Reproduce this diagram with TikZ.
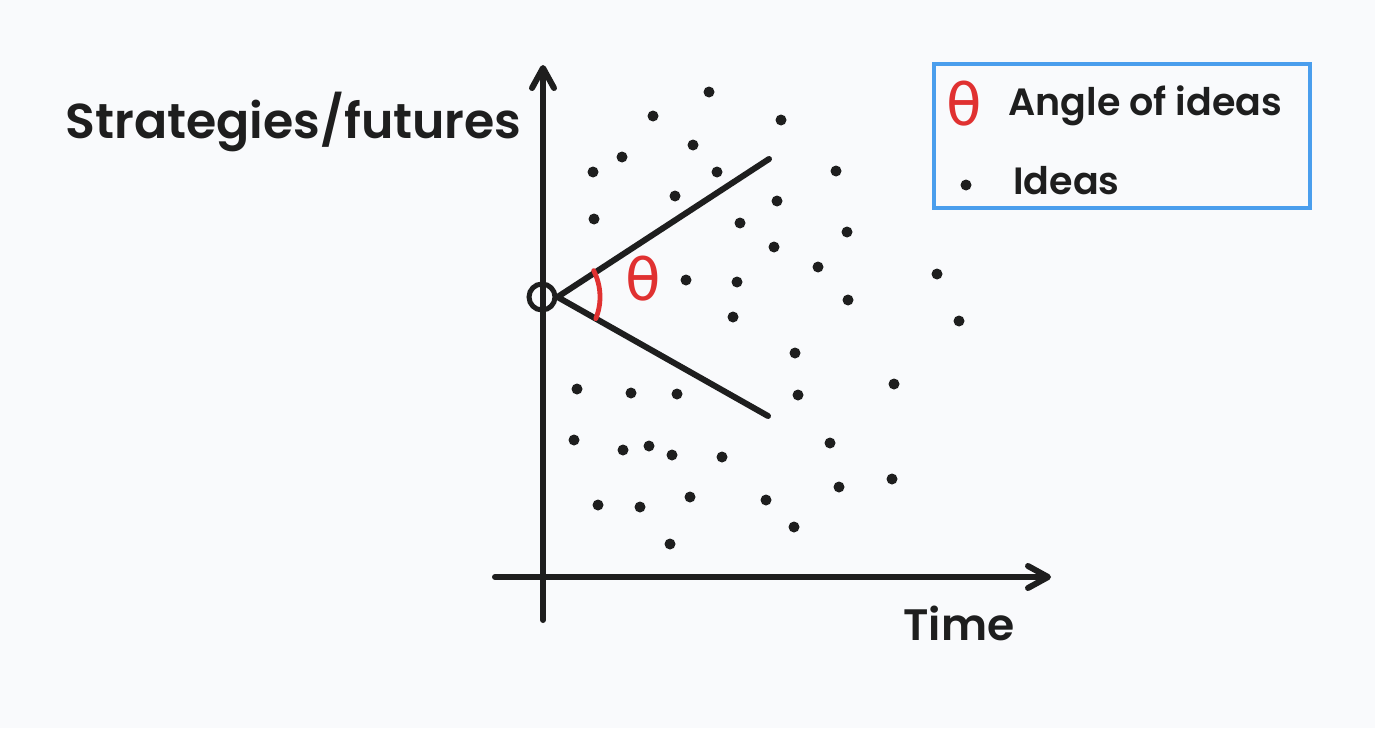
\documentclass[tikz,border=0pt]{standalone}
\usepackage{fontspec}
\setmainfont{Poppins}[UprightFont=* SemiBold]
\newfontfamily\thetafont{DejaVu Sans}
\usetikzlibrary{arrows.meta}
\definecolor{ink}{RGB}{30,30,30}
\definecolor{paper}{RGB}{249,250,252}
\definecolor{anglered}{RGB}{224,49,49}
\definecolor{legendblue}{RGB}{74,158,237}
\tikzset{
    axis/.style={draw=ink, line width=3pt, line cap=round,
        -{Straight Barb[length=10pt,width=11pt,round]}},
    ray/.style={draw=ink, line width=3pt, line cap=round},
    origin/.style={circle, draw=ink, line width=2.5pt, minimum size=13pt, inner sep=0pt},
    anglearc/.style={draw=anglered, line width=2.4pt, line cap=round},
    thetamark/.style={text=anglered, inner sep=0pt, font=\thetafont\fontsize{29pt}{29pt}\selectfont},
    axislabel/.style={text=ink, inner sep=0pt, anchor=base west},
    legendbox/.style={draw=legendblue, line width=1.6pt},
    legendtext/.style={text=ink, inner sep=0pt, anchor=base west, font=\fontsize{19pt}{19pt}\selectfont},
    idea/.style={fill=ink},
}

\begin{document}
\begin{tikzpicture}[x=0.5pt, y=-0.5pt]
	\useasboundingbox[fill=paper] (0,0) rectangle (1375,728);
	% axes
	\coordinate (ybot) at (543,620);
	\coordinate (ytop) at (543,65);
	\coordinate (xleft) at (495,577);
	\coordinate (xright) at (1051,577);
	\draw[axis] (ybot) -- (ytop);
	\draw[axis] (xleft) -- (xright);
	\node[axislabel, font=\fontsize{24.5pt}{24.5pt}\selectfont] (ylab) at (65,138) {Strategies/futures};
	\node[axislabel, font=\fontsize{22pt}{22pt}\selectfont] (xlab) at (903,640) {Time};
	% cone of ideas
	\node[origin] (o) at (542,297) {};
	\coordinate (upend) at (769,159);
	\coordinate (downend) at (768,416);
	\draw[ray] (o.east) -- (upend);
	\draw[ray] (o.east) -- (downend);
	\draw[anglearc] (o.center) ++(-27:58) arc[start angle=-27, end angle=22, radius=58];
	\node[thetamark] (theta) at (643,279) {θ};
	% ideas
	\foreach \p in {(709,92),(653,116),(781,120),(693,145),(622,157),(593,172),
		(717,172),(836,171),(675,196),(777,201),(594,219),(740,223),(847,232),
		(774,247),(818,267),(686,280),(737,282),(937,274),(848,300),(733,317),
		(959,321),(795,353),(577,389),(631,393),(677,394),(798,395),(894,384),
		(574,440),(623,450),(649,446),(672,455),(722,457),(830,443),(839,487),
		(892,479),(598,505),(640,507),(690,497),(766,500),(794,527),(670,544)}
		\fill[idea] \p circle (5.5);
	% legend
	\draw[legendbox] (934,64) rectangle (1310,208);
	\node[thetamark] (keytheta) at (964,104) {θ};
	\node[legendtext] (keyangle) at (1008,115) {Angle of ideas};
	\fill[idea] (966,185) circle (5.5);
	\node[legendtext] (keyidea) at (1013,194) {Ideas};
\end{tikzpicture}
\end{document}
